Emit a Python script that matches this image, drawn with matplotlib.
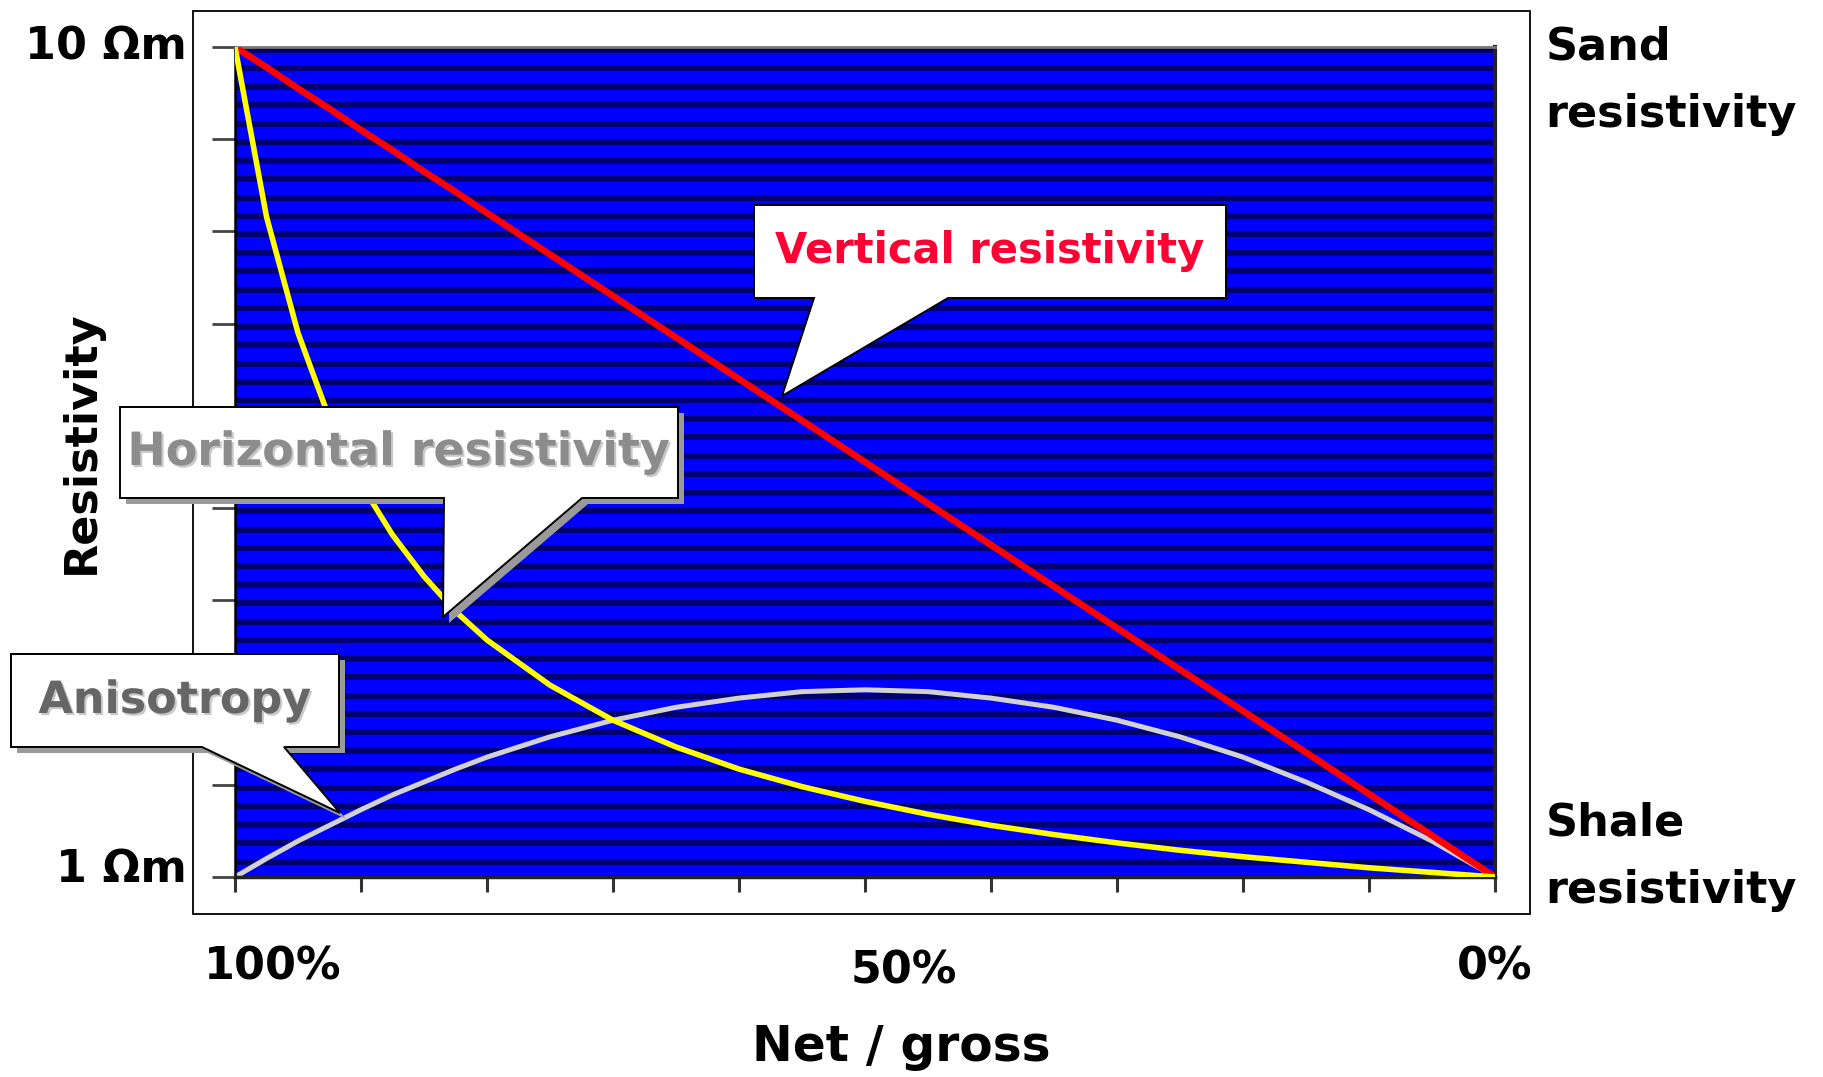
import numpy as np
import matplotlib
matplotlib.use("Agg")
import matplotlib.pyplot as plt
from matplotlib.patches import Polygon, Rectangle
import matplotlib.patheffects as pe

plt.rcParams["font.family"] = ["DejaVu Sans"]
plt.rcParams["font.weight"] = "bold"

# net / gross (%) and resistivities (ohm.m)
net_gross = [100, 97.5, 95, 92.5, 90, 87.5, 85, 82.5, 80, 75, 70, 65, 60,
             55, 50, 45, 40, 35, 30, 25, 20, 15, 10, 5, 0]
vertical = [10, 9.78, 9.55, 9.33, 9.1, 8.88, 8.65, 8.43, 8.2, 7.75, 7.3, 6.85,
            6.4, 5.95, 5.5, 5.05, 4.6, 4.15, 3.7, 3.25, 2.8, 2.35, 1.9, 1.45, 1]
horizontal = [10, 8.16, 6.90, 5.97, 5.26, 4.71, 4.26, 3.88, 3.57, 3.08, 2.70,
              2.41, 2.17, 1.98, 1.82, 1.68, 1.56, 1.46, 1.37, 1.29, 1.22, 1.16,
              1.10, 1.05, 1]
anisotropy = [1, 1.20, 1.39, 1.56, 1.73, 1.89, 2.03, 2.17, 2.30, 2.52, 2.70,
              2.84, 2.94, 3.01, 3.03, 3.01, 2.94, 2.84, 2.70, 2.52, 2.30, 2.03,
              1.73, 1.39, 1]

x_ticks = [100, 90, 80, 70, 60, 50, 40, 30, 20, 10, 0]
y_ticks = [1, 2, 3, 4, 5, 6, 7, 8, 9, 10]

W, H = 1824, 1077
fig = plt.figure(figsize=(W / 100, H / 100), dpi=100)


def px(x, y):
    # pixel (from top-left) -> figure fraction
    return (x / W, 1 - y / H)


ax = fig.add_axes([235 / W, 1 - 877 / H, (1495 - 235) / W, (877 - 47) / H])
ax.set_facecolor("#0000ff")

# striped background
for top in np.arange(10, 1, -0.2):
    ax.axhspan(top - 0.065, top, color="#000070", lw=0, zorder=0)

ax.plot(net_gross, vertical, color="#ff0000", lw=4.8, zorder=3)
ax.plot(net_gross, horizontal, color="#ffff00", lw=4.0, zorder=3)
ax.plot(net_gross, anisotropy, color="#d2d2d2", lw=3.6, zorder=2)

ax.set_xlim(100, 0)
ax.set_ylim(1, 10)
ax.set_xticks(x_ticks)
ax.set_yticks(y_ticks)
ax.set_xticklabels([])
ax.set_yticklabels([])
ax.tick_params(axis="y", length=16.5, width=2, color="#444444", direction="out")
ax.tick_params(axis="x", length=11, width=2.2, color="#333333", direction="out")
ax.spines["left"].set_color("black")
ax.spines["left"].set_linewidth(1.8)
ax.spines["top"].set_color("#777777")
ax.spines["top"].set_linewidth(2)
ax.spines["right"].set_color("#222222")
ax.spines["right"].set_linewidth(3)
ax.spines["bottom"].set_color("#222222")
ax.spines["bottom"].set_linewidth(2.5)

# outer frame
x0, y0 = px(193, 914)
x1, y1 = px(1530, 11)
fig.add_artist(Rectangle((x0, y0), x1 - x0, y1 - y0, fill=False, ec="black",
                         lw=1.3, transform=fig.transFigure, zorder=1))

fs = 32
ytr = ax.get_yaxis_transform()
ax.text(-0.038, 10, "10 Ωm", transform=ytr, ha="right", va="center", fontsize=fs)
ax.text(-0.038, 1.08, "1 Ωm", transform=ytr, ha="right", va="center", fontsize=fs)
ax.text(-0.122, 0.524, "Resistivity", transform=ax.transAxes, rotation=90,
        ha="center", va="center", fontsize=fs)
ax.text(1.04, 1.026, "Sand\nresistivity", transform=ax.transAxes, ha="left",
        va="top", fontsize=fs, linespacing=1.72)
ax.text(1.04, 0.091, "Shale\nresistivity", transform=ax.transAxes, ha="left",
        va="top", fontsize=fs, linespacing=1.72)
ax.text(0.03, -0.108, "100%", transform=ax.transAxes, ha="center", va="center",
        fontsize=fs)
ax.text(0.531, -0.113, "50%", transform=ax.transAxes, ha="center", va="center",
        fontsize=fs)
ax.text(1.0, -0.108, "0%", transform=ax.transAxes, ha="center", va="center",
        fontsize=fs)
ax.text(0.529, -0.205, "Net / gross", transform=ax.transAxes, ha="center",
        va="center", fontsize=35)


def callout(box, tail, tip, text, tcolor, size, shadow):
    bx0, by0, bx1, by1 = box
    verts = [(bx0, by0), (bx1, by0), (bx1, by1), (tail[1], by1), tip,
             (tail[0], by1), (bx0, by1)]
    if shadow:
        sv = [px(x + 6, y + 6) for x, y in verts]
        fig.add_artist(Polygon(sv, closed=True, fc="#9a9a9a", ec="none",
                               transform=fig.transFigure, zorder=4))
    fig.add_artist(Polygon([px(x, y) for x, y in verts], closed=True, fc="white",
                           ec="black", lw=1.4, transform=fig.transFigure,
                           zorder=5))
    effects = []
    if shadow:
        effects = [pe.withSimplePatchShadow(offset=(1.5, -1.5),
                                            shadow_rgbFace="#c8c8c8", alpha=1)]
    cx, cy = px((bx0 + bx1) / 2, (by0 + by1) / 2)
    fig.text(cx, cy, text, ha="center", va="center", color=tcolor,
             fontsize=size, zorder=6, path_effects=effects)


callout((754, 205, 1226, 298), (814, 948), (782, 396), "Vertical resistivity",
        "#ff0033", 30, False)
callout((120, 407, 678, 498), (444, 582), (443, 617), "Horizontal resistivity",
        "#8c8c8c", 33, True)
callout((11, 654, 339, 747), (202, 284), (340, 813), "Anisotropy",
        "#666666", 32, True)

fig.savefig("out.png", dpi=100)
